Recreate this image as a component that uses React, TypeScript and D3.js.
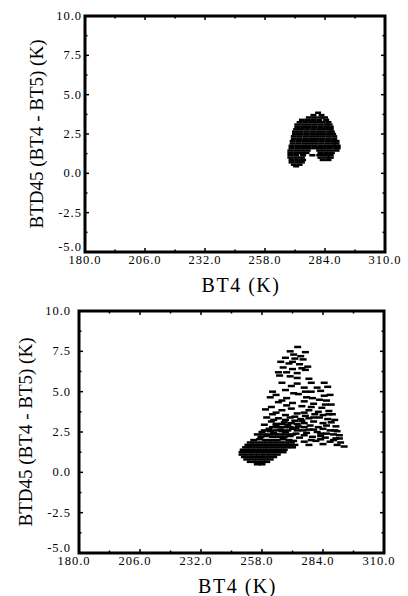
import React from "react";
import * as d3 from "d3";

type Pt = [number, number];

// axis ticks (shared by both panels)
const xTicks = [180, 206, 232, 258, 284, 310];
const xMinor = [193, 219, 245, 271, 297];
const yTicks = [-5, -2.5, 0, 2.5, 5, 7.5, 10];
const yMinor = [-3.75, -1.25, 1.25, 3.75, 6.25, 8.75];

const xTitle = "BT4 (K)";
const yTitle = "BTD45 (BT4 - BT5) (K)";

const topPoints: Pt[] = [
  [281, 3.85],
  [279, 3.7], [282.5, 3.7],
  [277, 3.55], [279.5, 3.55], [282, 3.55], [284, 3.55],
  [274, 3.4], [276.5, 3.4], [279, 3.4], [281.5, 3.4], [284.5, 3.4],
  [273, 3.25], [275.5, 3.25], [278, 3.25], [280.5, 3.25], [283, 3.25], [285.5, 3.25],
  [272, 3.1], [274.5, 3.1], [277, 3.1], [279.5, 3.1], [282, 3.1], [284.5, 3.1], [286, 3.1],
  [272, 2.95], [274.5, 2.95], [277, 2.95], [279.5, 2.95], [282, 2.95], [284.5, 2.95], [286.5, 2.95],
  [271.5, 2.8], [274, 2.8], [276.5, 2.8], [279, 2.8], [281.5, 2.8], [284, 2.8], [286.5, 2.8],
  [271, 2.65], [273.5, 2.65], [276, 2.65], [278.5, 2.65], [281, 2.65], [283.5, 2.65], [286, 2.65], [287, 2.65],
  [271, 2.5], [273.5, 2.5], [276, 2.5], [278.5, 2.5], [281, 2.5], [283.5, 2.5], [286, 2.5], [287.5, 2.5],
  [270.5, 2.35], [273, 2.35], [275.5, 2.35], [278, 2.35], [280.5, 2.35], [283, 2.35], [285.5, 2.35], [288, 2.35],
  [270.5, 2.2], [273, 2.2], [275.5, 2.2], [278, 2.2], [280.5, 2.2], [283, 2.2], [285.5, 2.2], [288, 2.2],
  [270, 2.05], [272.5, 2.05], [275, 2.05], [277.5, 2.05], [280, 2.05], [282.5, 2.05], [285, 2.05], [287.5, 2.05], [289, 2.05],
  [270, 1.9], [272.5, 1.9], [275, 1.9], [277.5, 1.9], [280, 1.9], [282.5, 1.9], [285, 1.9], [287.5, 1.9], [289, 1.9],
  [269.5, 1.75], [272, 1.75], [274.5, 1.75], [277, 1.75], [279.5, 1.75], [282, 1.75], [284.5, 1.75], [287, 1.75], [289.5, 1.75],
  [269.5, 1.6], [272, 1.6], [274.5, 1.6], [277, 1.6], [279.5, 1.6], [281.5, 1.6], [283.5, 1.6], [286, 1.6], [288.5, 1.6], [289.5, 1.6],
  [269, 1.45], [271.5, 1.45], [274, 1.45], [276.5, 1.45], [281.5, 1.45], [284, 1.45], [286.5, 1.45], [289, 1.45],
  [269, 1.3], [271.5, 1.3], [274, 1.3], [276, 1.3], [282, 1.3], [284.5, 1.3], [287, 1.3],
  [269, 1.15], [271.5, 1.15], [274.5, 1.15], [278.5, 1.15], [281.5, 1.15], [284, 1.15], [286.5, 1.15],
  [269, 1.0], [271.5, 1.0], [274, 1.0], [282, 1.0], [284.5, 1.0], [286.5, 1.0],
  [269.5, 0.85], [272, 0.85], [274.5, 0.85], [283, 0.85], [285.5, 0.85],
  [269.5, 0.7], [272, 0.7], [274, 0.7],
  [270.5, 0.55], [273, 0.55],
  [271.5, 0.45],
];

// lower panel: sparse plume above, dense cluster lower left
const bottomPoints: Pt[] = [
  [273.2, 7.77],
  [276.5, 7.45], [271.5, 7.3], [270, 7.5], [274.5, 7.2],
  [268, 7.1], [272, 7.05], [275.5, 7.0], [271, 6.85],
  [266, 6.85], [269.5, 6.75], [274, 6.7], [277.5, 6.55],
  [267, 6.5], [271, 6.4], [276.5, 6.35], [275, 6.45],
  [268.5, 6.2], [273, 6.15], [265, 6.2],
  [265.5, 6.0], [270, 5.95], [273, 5.85],
  [278, 5.8],
  [266.5, 5.55], [273, 5.5], [279, 5.55], [284.5, 5.55],
  [270.5, 5.35], [286, 5.3], [276, 5.25], [281.5, 5.25],
  [262.5, 5.0], [268, 5.1], [279, 5.0], [283, 5.05], [276.5, 5.0],
  [264, 4.8], [273.5, 4.85], [287, 4.8], [271.5, 4.9], [284.5, 4.75],
  [261.5, 4.65], [268.5, 4.6], [277, 4.65], [282.5, 4.5], [285.5, 4.45], [279.5, 4.6],
  [265, 4.35], [271, 4.3], [280, 4.25], [287.5, 4.2], [266.5, 4.45], [276, 4.4],
  [262, 4.05], [275, 4.1], [283.5, 4.0], [268.5, 4.15], [279, 4.05], [285, 4.2],
  [259.5, 3.9], [266.5, 3.85], [270.5, 3.95], [278, 3.85], [286.5, 3.8],
  [262.5, 3.6], [268, 3.55], [273, 3.65], [280.5, 3.6], [284, 3.55], [288, 3.6], [264, 3.7], [276, 3.7], [286.5, 3.6], [282, 3.75],
  [260, 3.4], [265, 3.35], [270, 3.4], [274.5, 3.3], [278, 3.35], [282.5, 3.4], [286, 3.3], [289, 3.25],
  [272, 3.45], [276.5, 3.5], [280, 3.4], [263, 3.25], [268, 3.25],
  [262, 3.15], [267.5, 3.1], [272, 3.2], [276, 3.05], [280, 3.15], [284, 3.05], [287.5, 3.1], [275, 3.2],
  [264, 3.0], [266.5, 3.0], [270.5, 3.05], [273, 3.0],
  [259, 2.95], [264, 2.9], [269, 2.95], [273.5, 2.85], [278.5, 2.9], [282, 2.8], [285.5, 2.9], [289.5, 2.85],
  [262.5, 2.8], [265, 2.8], [267.5, 2.8], [270, 2.8], [272.5, 2.75], [276, 2.8],
  [261, 2.7], [266, 2.65], [271, 2.7], [275.5, 2.6], [280, 2.65], [287, 2.6], [290, 2.55], [278, 2.65], [284, 2.7], [289, 2.6],
  [259, 2.6], [261.5, 2.55], [264, 2.6], [266.5, 2.55], [269, 2.6], [273, 2.6],
  [258, 2.5], [263, 2.45], [268, 2.5], [272.5, 2.4], [277, 2.45], [283, 2.4], [288.5, 2.35], [291, 2.3], [281.5, 2.5], [285.5, 2.4],
  [256, 2.35], [258.5, 2.35], [261, 2.35], [263.5, 2.35], [266, 2.35], [268.5, 2.35], [271, 2.35],
  [260, 2.25], [265, 2.2], [270, 2.25], [274, 2.15], [279.5, 2.2], [285, 2.15], [289.5, 2.1], [276, 2.3], [283, 2.25],
  [257, 2.05], [262, 2.0], [267, 2.05], [271.5, 1.95], [276, 1.9], [281, 1.95], [287, 1.9], [291.5, 1.85],
  [279, 2.0], [283, 2.05], [288.5, 2.0], [291, 2.1],
  [290, 1.7], [293, 1.6], [284, 1.75], [278, 1.7],
  [257.5, 2.2], [262.5, 2.2], [267.5, 2.2],
  [254.5, 2.0], [259.5, 2.0], [264.5, 2.0], [269.5, 2.0],
  [253, 1.85], [255.5, 1.85], [258, 1.85], [260.5, 1.85], [263, 1.85], [265.5, 1.85], [268, 1.85], [270.5, 1.85],
  [252, 1.7], [254.5, 1.7], [257, 1.7], [259.5, 1.7], [262, 1.7], [264.5, 1.7], [267, 1.7], [269.5, 1.7], [272, 1.7],
  [251, 1.55], [253.5, 1.55], [256, 1.55], [258.5, 1.55], [261, 1.55], [263.5, 1.55], [266, 1.55], [268.5, 1.55], [271, 1.55],
  [250, 1.4], [252.5, 1.4], [255, 1.4], [257.5, 1.4], [260, 1.4], [262.5, 1.4], [265, 1.4], [267.5, 1.4],
  [249.5, 1.25], [252, 1.25], [254.5, 1.25], [257, 1.25], [259.5, 1.25], [262, 1.25], [264.5, 1.25], [267, 1.25],
  [249.5, 1.1], [252, 1.1], [254.5, 1.1], [257, 1.1], [259.5, 1.1], [262, 1.1], [264.5, 1.1],
  [250.5, 0.95], [253, 0.95], [255.5, 0.95], [258, 0.95], [260.5, 0.95], [263, 0.95],
  [251.5, 0.8], [254, 0.8], [256.5, 0.8], [259, 0.8], [261.5, 0.8],
  [253, 0.65], [255.5, 0.65], [258, 0.65], [260, 0.65],
  [256, 0.5], [258, 0.5],
];

const serif = "'Liberation Serif', 'Times New Roman', serif";

type PanelProps = {
  left: number; right: number; top: number; bottom: number;
  yTitleX: number; xTitleY: number; labelShift: number; dashW: number;
  points: Pt[];
};

const Panel = ({ left, right, top, bottom, yTitleX, xTitleY, labelShift, dashW, points }: PanelProps) => {
  const x = d3.scaleLinear().domain([180, 310]).range([left, right]);
  const y = d3.scaleLinear().domain([-5, 10]).range([bottom, top]);
  const major = 4;
  const minor = 2.5;

  return (
    <g>
      {points.map((d, i) => (
        <rect key={i} x={x(d[0]) - dashW / 2} y={y(d[1]) - 1.25} width={dashW} height={2.5} fill="#000" />
      ))}

      {/* ticks pointing inward on all four sides */}
      {xTicks.map((t) => (
        <g key={"xt" + t}>
          <line x1={x(t)} x2={x(t)} y1={bottom} y2={bottom - major} stroke="#000" strokeWidth={1.5} />
          <line x1={x(t)} x2={x(t)} y1={top} y2={top + major} stroke="#000" strokeWidth={1.5} />
        </g>
      ))}
      {xMinor.map((t) => (
        <g key={"xm" + t}>
          <line x1={x(t)} x2={x(t)} y1={bottom} y2={bottom - minor} stroke="#000" strokeWidth={1.5} />
          <line x1={x(t)} x2={x(t)} y1={top} y2={top + minor} stroke="#000" strokeWidth={1.5} />
        </g>
      ))}
      {yTicks.map((t) => (
        <g key={"yt" + t}>
          <line x1={left} x2={left + major} y1={y(t)} y2={y(t)} stroke="#000" strokeWidth={1.5} />
          <line x1={right} x2={right - major} y1={y(t)} y2={y(t)} stroke="#000" strokeWidth={1.5} />
        </g>
      ))}
      {yMinor.map((t) => (
        <g key={"ym" + t}>
          <line x1={left} x2={left + minor} y1={y(t)} y2={y(t)} stroke="#000" strokeWidth={1.5} />
          <line x1={right} x2={right - minor} y1={y(t)} y2={y(t)} stroke="#000" strokeWidth={1.5} />
        </g>
      ))}

      <rect x={left} y={top} width={right - left} height={bottom - top} fill="none" stroke="#000" strokeWidth={3} />

      {yTicks.map((t) => (
        <text key={"yl" + t} x={left - 3 + labelShift} y={t === -5 ? y(t) - 1 : y(t) + 4} textAnchor="end"
          fontFamily={serif} fontSize={12.5} letterSpacing={1} fill="#000">
          {t.toFixed(1)}
        </text>
      ))}
      {xTicks.map((t) => (
        <text key={"xl" + t} x={x(t) + labelShift} y={bottom + 12} textAnchor="middle"
          fontFamily={serif} fontSize={12.5} letterSpacing={1} fill="#000">
          {t.toFixed(1)}
        </text>
      ))}

      <text x={(left + right) / 2 + 6} y={xTitleY} textAnchor="middle"
        fontFamily={serif} fontSize={20} letterSpacing={1.5} fill="#000">
        {xTitle}
      </text>
      <text transform={`translate(${yTitleX},${(top + bottom) / 2}) rotate(-90)`} y={7}
        textAnchor="middle" fontFamily={serif} fontSize={19} fill="#000">
        {yTitle}
      </text>
    </g>
  );
};

export default function App() {
  return (
    <svg width={408} height={596} style={{ position: "absolute", left: 0, top: 0, background: "#fff" }}>
      <rect width={408} height={596} fill="#fff" />
      <Panel left={85} right={385} top={16} bottom={252} yTitleX={36} xTitleY={292} labelShift={0} dashW={6} points={topPoints} />
      <Panel left={79} right={384} top={311} bottom={553} yTitleX={25} xTitleY={593} labelShift={-5} dashW={7} points={bottomPoints} />
    </svg>
  );
}
